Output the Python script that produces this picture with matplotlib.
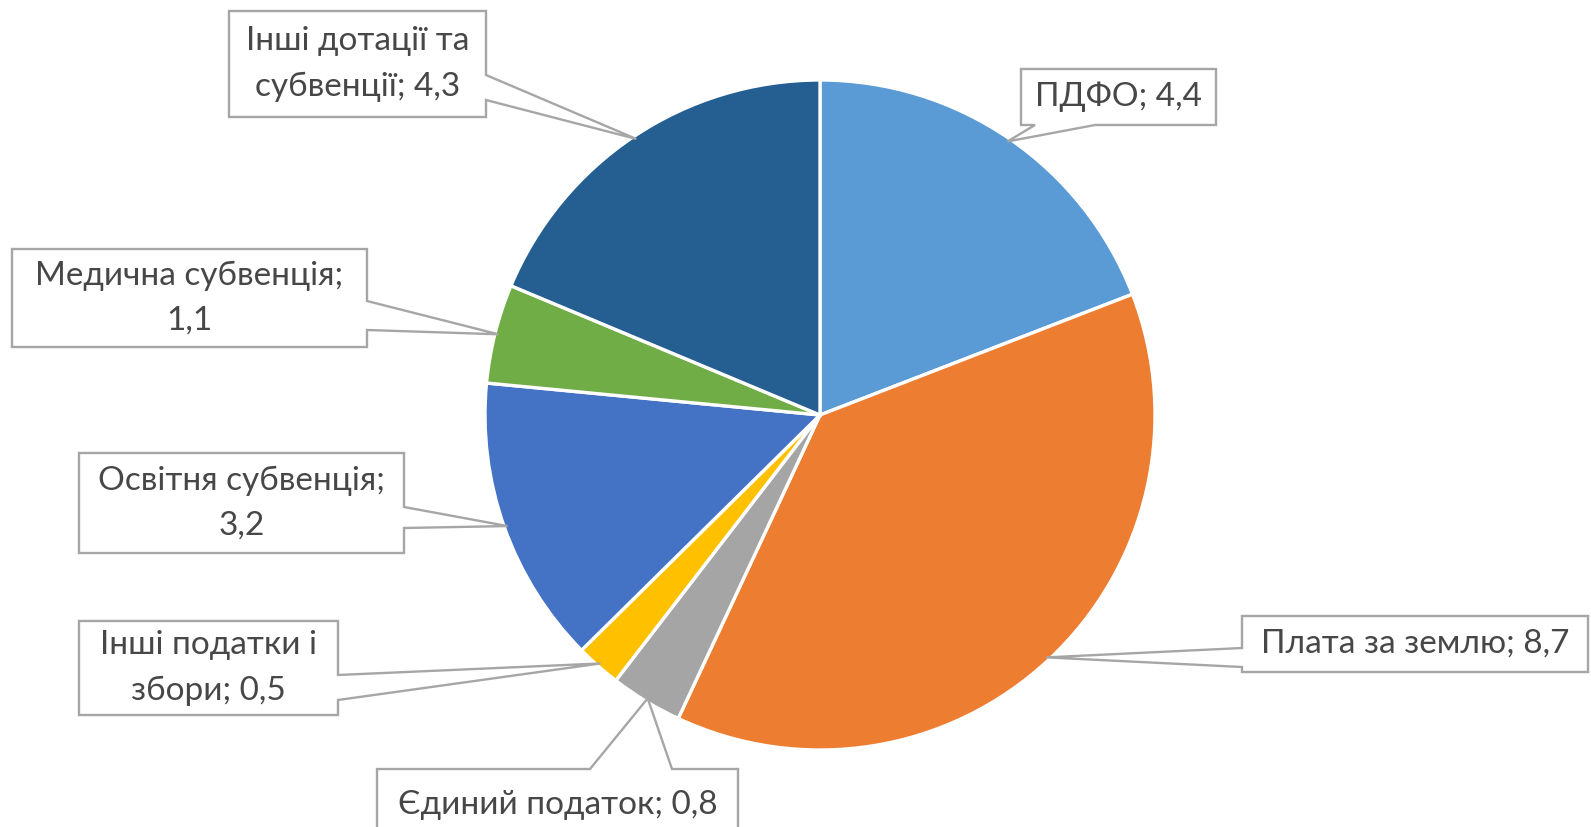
import matplotlib
matplotlib.use("Agg")
import matplotlib.pyplot as plt
from matplotlib.patches import Polygon
import numpy as np

categories = ["ПДФО", "Плата за землю", "Єдиний податок", "Інші податки і збори",
              "Освітня субвенція", "Медична субвенція", "Інші дотації та субвенції"]
values = [4.4, 8.7, 0.8, 0.5, 3.2, 1.1, 4.3]
value_labels = ["4,4", "8,7", "0,8", "0,5", "3,2", "1,1", "4,3"]
label_texts = ["ПДФО; 4,4", "Плата за землю; 8,7", "Єдиний податок; 0,8",
               "Інші податки і\nзбори; 0,5", "Освітня субвенція;\n3,2",
               "Медична субвенція;\n1,1", "Інші дотації та\nсубвенції; 4,3"]
colors = ["#5B9BD5", "#ED7D31", "#A5A5A5", "#FFC000", "#4472C4", "#70AD47", "#255E91"]

W, H = 1591, 827
fig = plt.figure(figsize=(W / 100, H / 100), dpi=100)
ax = fig.add_axes([0, 0, 1, 1])
ax.set_axis_off()

cx, cy, R = 820, 415, 335
wedges, _ = ax.pie(values, colors=colors, startangle=-90, counterclock=True,
                   center=(cx, cy), radius=R,
                   wedgeprops=dict(edgecolor="white", linewidth=2.4))
ax.set_xlim(0, W)
ax.set_ylim(H, 0)
ax.set_aspect("equal")

# callout layout: box (x0, y0, x1, y1), side of pointer, pointer base span
layout = [
    ((1021, 69, 1216, 125), "bottom", (1035, 1095)),
    ((1242, 616, 1588, 672), "left", (648, 667)),
    ((377, 769, 738, 850), "top", (590, 672)),
    ((79, 621, 338, 715), "right", (675, 700)),
    ((79, 453, 404, 553), "right", (507, 528)),
    ((12, 249, 367, 347), "right", (301, 330)),
    ((229, 11, 486, 117), "right", (75, 100)),
]

def callout_poly(box, side, base, tip):
    x0, y0, x1, y1 = box
    a, b = base
    if side == "right":
        return [(x0, y0), (x1, y0), (x1, a), tip, (x1, b), (x1, y1), (x0, y1)]
    if side == "left":
        return [(x0, y0), (x1, y0), (x1, y1), (x0, y1), (x0, b), tip, (x0, a)]
    if side == "top":
        return [(x0, y0), (a, y0), tip, (b, y0), (x1, y0), (x1, y1), (x0, y1)]
    return [(x0, y0), (x1, y0), (x1, y1), (b, y1), tip, (a, y1), (x0, y1)]

family = ["Lato", "Noto Sans", "DejaVu Sans"]
for w, txt, (box, side, base) in zip(wedges, label_texts, layout):
    mid = np.deg2rad((w.theta1 + w.theta2) / 2)
    tip = (cx + 0.99 * R * np.cos(mid), cy + 0.99 * R * np.sin(mid))
    poly = Polygon(callout_poly(box, side, base, tip), closed=True,
                   facecolor="white", edgecolor="#A6A6A6", linewidth=1.7, zorder=5)
    ax.add_patch(poly)
    x0, y0, x1, y1 = box
    ty = (y0 + min(y1, H)) / 2 if side != "top" else 805
    ax.text((x0 + x1) / 2, ty, txt, ha="center", va="center", fontsize=24,
            color="#474747", family=family, linespacing=1.62, zorder=6)

fig.savefig("out.png", dpi=100, facecolor="white")
